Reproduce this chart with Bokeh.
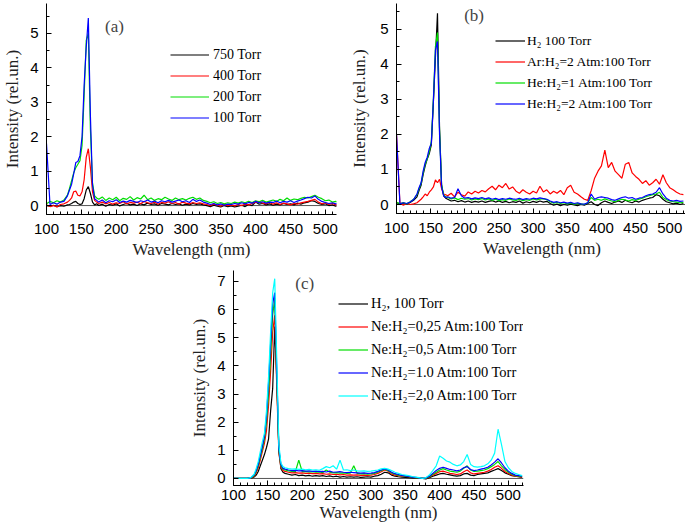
from bokeh.plotting import figure
from bokeh.layouts import column, row
from bokeh.models import (Span, Label, Legend, LegendItem, Spacer, Range1d,
                          SingleIntervalTicker)
from bokeh.embed import file_html
from bokeh.resources import INLINE

# ---------------- data ----------------
wavelength = [100, 105, 110, 115, 120, 125, 130,
              133, 136, 139, 142, 145, 148, 151, 154, 157, 160, 163, 166, 169, 172,
              175, 180, 185, 190, 195, 200, 205, 210, 215, 220,
              225, 230, 235, 240, 245, 250, 255, 260, 265, 270,
              275, 280, 285, 290, 295, 300, 305, 310, 315, 320,
              325, 330, 335, 340, 345, 350, 355, 360, 365, 370,
              375, 380, 385, 390, 395, 400, 405, 410, 415, 420,
              425, 430, 435, 440, 445, 450, 455, 460, 465, 470,
              475, 480, 485, 490, 495, 500, 505, 510, 515, 520]

# panel (a)
a_750 = [0.00, -0.02, 0.01, -0.03, 0.00, -0.02, 0.02,
         0.03, 0.06, 0.10, 0.12, 0.06, 0.03, 0.05, 0.20, 0.45, 0.55, 0.35, 0.10, 0.02, 0.05,
         0.00, 0.04, -0.02, 0.03, 0.01, 0.05, -0.01, 0.03, 0.06, 0.02,
         0.04, 0.00, 0.05, 0.02, 0.07, 0.03, 0.05, 0.01, 0.06, 0.04,
         0.02, 0.06, 0.03, 0.05, 0.01, 0.04, 0.02, 0.06, 0.03, 0.05,
         0.02, 0.00, -0.03, 0.01, -0.02, -0.04, 0.00, -0.03, -0.01, -0.04,
         -0.02, 0.01, -0.03, 0.03, 0.00, 0.10, 0.04, 0.06, 0.02, 0.05,
         0.01, 0.04, 0.02, 0.06, 0.03, 0.05, 0.02, 0.07, 0.04, 0.08,
         0.10, 0.14, 0.12, 0.06, 0.03, 0.05, 0.00, 0.02, -0.02, 0.01]
a_400 = [0.02, -0.03, 0.00, -0.04, 0.03, 0.05, 0.10,
         0.15, 0.22, 0.40, 0.42, 0.30, 0.28, 0.40, 0.75, 1.40, 1.65, 1.10, 0.40, 0.15, 0.10,
         0.06, 0.10, 0.05, 0.09, 0.04, 0.08, 0.06, 0.11, 0.05, 0.09,
         0.07, 0.10, 0.05, 0.12, 0.08, 0.06, 0.10, 0.04, 0.09, 0.07,
         0.11, 0.06, 0.09, 0.04, 0.10, 0.07, 0.05, 0.09, 0.06, 0.08,
         0.05, 0.03, 0.00, 0.04, 0.01, -0.02, 0.03, 0.00, 0.02, -0.01,
         0.03, 0.00, 0.04, 0.02, 0.06, 0.09, 0.12, 0.07, 0.05, 0.09,
         0.04, 0.08, 0.03, 0.07, 0.05, 0.02, 0.06, 0.04, 0.08, 0.10,
         0.12, 0.15, 0.18, 0.10, 0.05, 0.08, 0.03, 0.06, 0.02, 0.04]
a_200 = [0.05, 0.12, 0.08, 0.14, 0.10, 0.16, 0.30,
         0.50, 0.72, 0.95, 1.10, 1.20, 1.30, 1.75, 3.20, 4.80, 5.00, 2.20, 0.65, 0.28, 0.22,
         0.18, 0.25, 0.15, 0.22, 0.17, 0.24, 0.14, 0.21, 0.18, 0.26,
         0.16, 0.23, 0.19, 0.30, 0.17, 0.22, 0.15, 0.20, 0.17, 0.24,
         0.19, 0.15, 0.22, 0.17, 0.20, 0.16, 0.21, 0.24, 0.18, 0.22,
         0.15, 0.12, 0.08, 0.11, 0.06, 0.09, 0.05, 0.08, 0.06, 0.10,
         0.07, 0.11, 0.08, 0.12, 0.09, 0.14, 0.11, 0.15, 0.10, 0.13,
         0.16, 0.12, 0.18, 0.14, 0.22, 0.15, 0.19, 0.17, 0.21, 0.24,
         0.22, 0.26, 0.30, 0.24, 0.20, 0.14, 0.16, 0.10, 0.12, 0.08]
a_100 = [1.80, 0.03, 0.08, 0.04, 0.10, 0.12, 0.28,
         0.45, 0.62, 0.92, 1.25, 1.28, 1.45, 2.00, 3.50, 4.60, 5.45, 2.60, 0.60, 0.20, 0.15,
         0.10, 0.16, 0.08, 0.14, 0.11, 0.17, 0.09, 0.13, 0.10, 0.15,
         0.12, 0.09, 0.14, 0.11, 0.16, 0.10, 0.13, 0.08, 0.14, 0.11,
         0.15, 0.10, 0.13, 0.16, 0.11, 0.14, 0.09, 0.18, 0.12, 0.16,
         0.10, 0.07, 0.03, 0.06, 0.02, 0.05, 0.01, 0.04, 0.03, 0.06,
         0.04, 0.08, 0.05, 0.09, 0.07, 0.12, 0.08, 0.11, 0.07, 0.10,
         0.09, 0.13, 0.08, 0.12, 0.10, 0.14, 0.09, 0.13, 0.16, 0.20,
         0.24, 0.22, 0.28, 0.18, 0.12, 0.09, 0.06, 0.08, 0.05, 0.07]

# panel (b)
b_h2 = [0.05, 0.02, 0.04, 0.01, 0.06, 0.12, 0.22,
        0.40, 0.55, 0.85, 1.10, 1.30, 1.45, 1.70, 2.90, 4.20, 5.45, 2.20, 0.55, 0.25, 0.18,
        0.15, 0.10, 0.12, 0.08, 0.11, 0.07, 0.10, 0.06, 0.09, 0.07,
        0.10, 0.06, 0.09, 0.11, 0.07, 0.10, 0.06, 0.09, 0.05, 0.08,
        0.06, 0.10, 0.04, 0.08, 0.05, 0.09, 0.06, 0.10, 0.07, 0.09,
        0.03, -0.02, 0.01, -0.03, 0.00, -0.02, 0.01, -0.01, -0.03, 0.00,
        -0.02, 0.03, 0.08, 0.00, -0.03, 0.05, 0.10, 0.06, 0.03, 0.07,
        0.10, 0.06, 0.12, 0.08, 0.05, 0.10, 0.07, 0.12, 0.15, 0.18,
        0.20, 0.28, 0.25, 0.15, 0.08, 0.05, 0.02, 0.04, 0.00, 0.03]
b_ar2 = [2.00, 0.05, -0.02, 0.03, 0.00, 0.02, 0.05,
         0.10, 0.15, 0.22, 0.30, 0.25, 0.35, 0.42, 0.50, 0.70, 0.62, 0.72, 0.45, 0.30, 0.28,
         0.25, 0.32, 0.22, 0.35, 0.28, 0.24, 0.36, 0.30, 0.38, 0.33,
         0.40, 0.36, 0.45, 0.52, 0.42, 0.55, 0.48, 0.60, 0.44, 0.50,
         0.38, 0.32, 0.42, 0.35, 0.30, 0.38, 0.33, 0.52, 0.36, 0.42,
         0.30, 0.38, 0.32, 0.40, 0.28, 0.48, 0.55, 0.35, 0.30, 0.22,
         0.15, 0.12, 0.40, 0.75, 0.95, 1.10, 1.55, 1.05, 1.20, 0.95,
         0.85, 0.75, 1.15, 1.20, 0.90, 0.80, 0.72, 0.60, 0.68, 0.55,
         0.62, 0.72, 0.58, 0.85, 0.62, 0.48, 0.42, 0.35, 0.30, 0.28]
b_he1 = [0.06, 0.03, 0.05, 0.02, 0.08, 0.15, 0.28,
         0.45, 0.60, 0.90, 1.15, 1.30, 1.50, 1.80, 3.00, 4.50, 4.90, 2.10, 0.55, 0.28, 0.22,
         0.20, 0.16, 0.19, 0.14, 0.18, 0.15, 0.17, 0.13, 0.16, 0.14,
         0.17, 0.13, 0.16, 0.12, 0.15, 0.11, 0.14, 0.12, 0.16, 0.13,
         0.12, 0.15, 0.11, 0.14, 0.12, 0.16, 0.13, 0.15, 0.17, 0.14,
         0.08, 0.04, 0.06, 0.03, 0.05, 0.02, 0.04, 0.01, 0.03, 0.02,
         0.00, 0.05, 0.20, 0.12, 0.15, 0.12, 0.16, 0.13, 0.10, 0.08,
         0.12, 0.15, 0.13, 0.10, 0.14, 0.12, 0.15, 0.18, 0.22, 0.25,
         0.28, 0.30, 0.35, 0.20, 0.14, 0.10, 0.08, 0.07, 0.05, 0.06]
b_he2 = [2.00, 0.02, 0.05, 0.03, 0.07, 0.14, 0.30,
         0.48, 0.62, 0.95, 1.20, 1.35, 1.60, 1.75, 2.95, 4.40, 4.65, 2.00, 0.50, 0.25, 0.20,
         0.22, 0.18, 0.20, 0.45, 0.25, 0.18, 0.20, 0.16, 0.19, 0.17,
         0.20, 0.16, 0.19, 0.15, 0.18, 0.14, 0.17, 0.15, 0.18, 0.16,
         0.15, 0.18, 0.14, 0.17, 0.15, 0.18, 0.16, 0.19, 0.17, 0.15,
         0.10, 0.06, 0.08, 0.05, 0.07, 0.04, 0.06, 0.03, 0.05, 0.02,
         0.01, 0.05, 0.30, 0.15, 0.20, 0.22, 0.20, 0.18, 0.14, 0.12,
         0.16, 0.20, 0.22, 0.18, 0.20, 0.15, 0.18, 0.20, 0.25, 0.28,
         0.30, 0.35, 0.48, 0.30, 0.18, 0.12, 0.10, 0.12, 0.09, 0.10]

# panel (c)
c_h2 = [0.00, 0.00, 0.00, 0.00, 0.00, 0.00, 0.05,
        0.12, 0.25, 0.45, 0.65, 0.85, 1.10, 1.40, 2.40, 3.20, 5.40, 3.50, 1.00, 0.35, 0.22,
        0.18, 0.15, 0.12, 0.14, 0.10, 0.12, 0.09, 0.11, 0.08, 0.10,
        0.08, 0.10, 0.07, 0.09, 0.06, 0.08, 0.05, 0.07, 0.05, 0.06,
        0.05, 0.06, 0.04, 0.05, 0.06, 0.05, 0.08, 0.10, 0.15, 0.22,
        0.20, 0.12, 0.08, 0.06, 0.05, 0.04, 0.03, 0.02, 0.01, 0.00,
        0.00, -0.02, 0.03, 0.08, 0.12, 0.16, 0.18, 0.15, 0.13, 0.10,
        0.08, 0.10, 0.16, 0.18, 0.12, 0.10, 0.14, 0.16, 0.18, 0.20,
        0.25, 0.30, 0.35, 0.28, 0.20, 0.15, 0.10, 0.08, 0.06, 0.04]
c_ne025 = [0.00, 0.00, 0.00, 0.00, 0.00, 0.01, 0.08,
           0.20, 0.38, 0.65, 0.95, 1.25, 1.70, 2.60, 3.80, 5.20, 5.80, 3.20, 0.90, 0.40, 0.28,
           0.25, 0.22, 0.20, 0.21, 0.19, 0.20, 0.18, 0.19, 0.17, 0.18,
           0.16, 0.17, 0.15, 0.16, 0.14, 0.15, 0.13, 0.14, 0.12, 0.13,
           0.12, 0.13, 0.11, 0.12, 0.11, 0.12, 0.14, 0.18, 0.24, 0.30,
           0.26, 0.16, 0.12, 0.10, 0.08, 0.07, 0.06, 0.04, 0.03, 0.01,
           0.00, 0.00, 0.05, 0.12, 0.18, 0.24, 0.26, 0.22, 0.18, 0.16,
           0.14, 0.16, 0.24, 0.30, 0.20, 0.16, 0.18, 0.20, 0.22, 0.26,
           0.32, 0.40, 0.45, 0.36, 0.25, 0.18, 0.12, 0.08, 0.06, 0.05]
c_ne05 = [0.00, 0.00, 0.00, 0.00, 0.00, 0.02, 0.10,
          0.25, 0.45, 0.75, 1.05, 1.40, 2.00, 3.00, 4.40, 5.80, 6.40, 3.60, 1.00, 0.45, 0.32,
          0.30, 0.27, 0.25, 0.24, 0.65, 0.24, 0.25, 0.23, 0.24, 0.22,
          0.23, 0.21, 0.30, 0.22, 0.20, 0.21, 0.19, 0.20, 0.18, 0.19,
          0.45, 0.18, 0.16, 0.17, 0.15, 0.16, 0.18, 0.22, 0.28, 0.33,
          0.28, 0.20, 0.15, 0.12, 0.10, 0.08, 0.06, 0.05, 0.03, 0.02,
          0.00, 0.01, 0.06, 0.15, 0.22, 0.30, 0.35, 0.30, 0.26, 0.24,
          0.22, 0.26, 0.36, 0.45, 0.30, 0.25, 0.26, 0.28, 0.30, 0.35,
          0.42, 0.50, 0.60, 0.45, 0.32, 0.22, 0.15, 0.10, 0.08, 0.06]
c_ne10 = [0.00, 0.00, 0.00, 0.00, 0.00, 0.02, 0.12,
          0.28, 0.50, 0.82, 1.15, 1.50, 2.20, 3.40, 4.80, 6.20, 6.60, 3.80, 1.05, 0.50, 0.36,
          0.33, 0.30, 0.28, 0.29, 0.27, 0.28, 0.26, 0.27, 0.25, 0.26,
          0.24, 0.25, 0.23, 0.26, 0.22, 0.23, 0.24, 0.22, 0.21, 0.22,
          0.21, 0.20, 0.19, 0.20, 0.18, 0.19, 0.21, 0.25, 0.30, 0.34,
          0.30, 0.22, 0.17, 0.14, 0.11, 0.09, 0.07, 0.05, 0.04, 0.02,
          0.00, 0.02, 0.08, 0.18, 0.28, 0.36, 0.40, 0.36, 0.32, 0.30,
          0.27, 0.30, 0.38, 0.42, 0.32, 0.28, 0.30, 0.33, 0.36, 0.40,
          0.48, 0.58, 0.70, 0.55, 0.38, 0.26, 0.18, 0.12, 0.10, 0.08]
c_ne20 = [0.00, 0.00, 0.00, 0.00, 0.00, 0.03, 0.15,
          0.35, 0.60, 0.95, 1.30, 1.60, 2.40, 3.60, 5.20, 6.60, 7.10, 4.20, 1.20, 0.55, 0.42,
          0.38, 0.35, 0.33, 0.34, 0.32, 0.33, 0.31, 0.32, 0.30, 0.31,
          0.29, 0.35, 0.42, 0.38, 0.45, 0.33, 0.65, 0.30, 0.31, 0.28,
          0.30, 0.27, 0.26, 0.27, 0.25, 0.26, 0.28, 0.30, 0.34, 0.36,
          0.33, 0.28, 0.22, 0.18, 0.14, 0.12, 0.10, 0.07, 0.05, 0.03,
          0.00, 0.03, 0.12, 0.28, 0.45, 0.80, 0.72, 0.62, 0.58, 0.50,
          0.45, 0.48, 0.60, 0.85, 0.50, 0.42, 0.40, 0.42, 0.45, 0.52,
          0.65, 0.90, 1.75, 1.20, 0.60, 0.38, 0.25, 0.18, 0.14, 0.10]

labels_a = ["750 Torr", "400 Torr", "200 Torr", "100 Torr"]
labels_b = ["H\u2082 100 Torr", "Ar:H\u2082=2 Atm:100 Torr",
            "He:H\u2082=1 Atm:100 Torr", "He:H\u2082=2 Atm:100 Torr"]
labels_c = ["H\u2082, 100 Torr", "Ne:H\u2082=0,25 Atm:100 Torr",
            "Ne:H\u2082=0,5 Atm:100 Torr", "Ne:H\u2082=1.0 Atm:100 Torr",
            "Ne:H\u2082=2,0 Atm:100 Torr"]

BLACK, RED, GREEN, BLUE, CYAN = "#000000", "#ff0000", "#00dd00", "#0000ff", "#00ffff"

SERIF = "Liberation Serif"
SANS = "Liberation Sans"


def make_panel(fw, fh, xr, yr, mb, ystep, y_standoff, ylab_standoff,
               x_standoff, xlab_standoff):
    p = figure(frame_width=fw, frame_height=fh,
               x_range=Range1d(*xr), y_range=Range1d(*yr),
               output_backend="svg", toolbar_location=None,
               min_border_left=mb[0], min_border_right=mb[1],
               min_border_top=mb[2], min_border_bottom=mb[3])
    p.outline_line_color = None
    p.grid.visible = False
    p.background_fill_color = "white"
    p.border_fill_color = "white"
    p.xaxis.ticker = SingleIntervalTicker(interval=50, num_minor_ticks=5)
    p.yaxis.ticker = SingleIntervalTicker(interval=ystep, num_minor_ticks=2)
    for ax in (p.xaxis[0], p.yaxis[0]):
        ax.major_tick_in = 5
        ax.major_tick_out = 0
        ax.minor_tick_in = 3
        ax.minor_tick_out = 0
        ax.axis_line_color = "black"
        ax.major_tick_line_color = "black"
        ax.minor_tick_line_color = "black"
        ax.major_label_text_font = SANS
        ax.major_label_text_font_size = "15px"
        ax.major_label_text_color = "black"
        ax.axis_label_text_font = SERIF
        ax.axis_label_text_font_size = "17px"
        ax.axis_label_text_font_style = "normal"
        ax.axis_label_text_color = "#222222"
    p.xaxis.axis_label = "Wavelength (nm)"
    p.yaxis.axis_label = "Intensity (rel.un.)"
    p.yaxis.major_label_standoff = y_standoff
    p.yaxis.axis_label_standoff = ylab_standoff
    p.xaxis.major_label_standoff = x_standoff
    p.xaxis.axis_label_standoff = xlab_standoff
    p.add_layout(Span(location=0, dimension="width", line_color="#555555",
                      line_width=1, level="underlay"))
    return p


def add_lines(p, series, colors, labels, loc, glyph_w, row_h, font_size, standoff):
    items = []
    for ys, c, lab in zip(series, colors, labels):
        r = p.line(wavelength, ys, line_color=c, line_width=1.2)
        items.append(LegendItem(label=lab, renderers=[r]))
    leg = Legend(items=items, location=loc, orientation="vertical",
                 glyph_width=glyph_w, glyph_height=row_h, label_height=row_h,
                 label_standoff=standoff, spacing=0, padding=0, margin=0,
                 border_line_color=None, background_fill_alpha=0,
                 label_text_font=SERIF, label_text_font_size=font_size,
                 label_text_color="black")
    p.add_layout(leg)


# panel (a): frame x 43..333, y 2..213
pa = make_panel(290, 211, (100, 516), (-0.26, 5.87), (43, 10, 2, 49), 1,
                8, 5, 9, 3)
add_lines(pa, [a_750, a_400, a_200, a_100], [BLACK, RED, GREEN, BLUE], labels_a,
          (124, 86), 39, 21, "14px", 4)
pa.add_layout(Label(x=184, y=5.2, text="(a)", text_font=SERIF,
                    text_font_size="17px", text_baseline="middle"))

# panel (b): frame x 393..684, y 3..213
pb = make_panel(291, 210, (100, 526), (-0.256, 5.73), (50, 0, 3, 49), 1,
                8, 8, 9, 3)
add_lines(pb, [b_h2, b_ar2, b_he1, b_he2], [BLACK, RED, GREEN, BLUE], labels_b,
          (99, 99), 30, 21, "13.5px", 2)
pb.add_layout(Label(x=199, y=5.38, text="(b)", text_font=SERIF,
                    text_font_size="17px", text_baseline="middle"))

# panel (c): frame x 233..523, y 270..485
pc = make_panel(290, 215, (100, 522), (-0.25, 7.39), (50, 10, 8, 45), 1,
                8, 5, 4, 0)
add_lines(pc, [c_h2, c_ne025, c_ne05, c_ne10, c_ne20],
          [BLACK, RED, GREEN, BLUE, CYAN], labels_c,
          (105, 78), 30, 23, "14.5px", 3)
pc.add_layout(Label(x=190, y=6.93, text="(c)", text_font=SERIF,
                    text_font_size="17px", text_baseline="middle"))

layout = column(row(pa, pb), row(Spacer(width=183, height=10), pc))

open("out.html", "w").write(file_html(layout, INLINE))
